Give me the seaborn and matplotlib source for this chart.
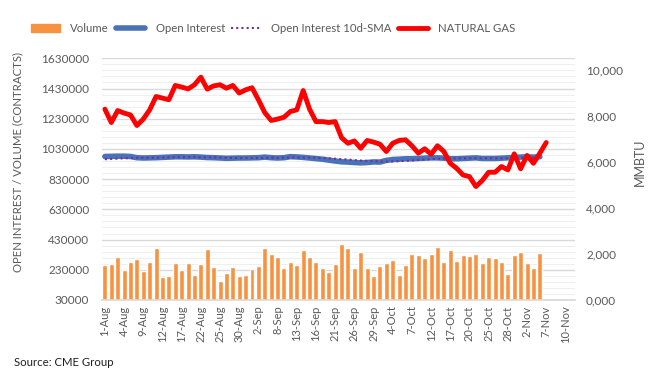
import matplotlib
matplotlib.use("Agg")
import matplotlib.pyplot as plt
from matplotlib.lines import Line2D
from matplotlib.patches import Patch
from matplotlib.ticker import FixedLocator, FuncFormatter
import numpy as np
import pandas as pd
import seaborn as sns

# trading days shown on the axis (US business days, Labor Day closed)
dates = pd.bdate_range("2022-08-01", "2022-11-11", freq="C", holidays=["2022-09-05"])
date_labels = [f"{d.day}-{d.strftime('%b')}" for d in dates]

volume = [
    262000, 269000, 316000, 229000, 282000, 302000, 223000, 282000, 375000, 183000,
    189000, 276000, 229000, 276000, 196000, 269000, 369000, 249000, 156000, 209000,
    249000, 189000, 196000, 236000, 256000, 375000, 336000, 316000, 242000, 282000,
    262000, 362000, 316000, 282000, 242000, 216000, 269000, 402000, 375000, 242000,
    349000, 242000, 189000, 256000, 276000, 296000, 196000, 262000, 336000, 329000,
    309000, 336000, 382000, 282000, 362000, 289000, 329000, 322000, 336000, 276000,
    316000, 309000, 282000, 203000, 329000, 349000, 276000, 242000, 342000,
]

open_interest = [
    980000, 981000, 982000, 982000, 980000, 972000, 970000, 971000, 972000, 974000,
    976000, 978000, 978000, 977000, 978000, 976000, 973000, 972000, 970000, 968000,
    969000, 970000, 970000, 971000, 972000, 976000, 972000, 970000, 972000, 979000,
    977000, 974000, 970000, 966000, 962000, 956000, 950000, 945000, 943000, 940000,
    938000, 940000, 944000, 943000, 954000, 960000, 962000, 965000, 965000, 967000,
    969000, 971000, 971000, 969000, 965000, 965000, 967000, 969000, 971000, 967000,
    967000, 967000, 969000, 971000, 974000, 976000, 978000, 976000, 978000,
]

oi_sma = [
    962000, 964000, 966000, 968000, 970000, 971000, 971000, 971000, 972000, 973000,
    974000, 975000, 975000, 975000, 975000, 975000, 975000, 974000, 973000, 972000,
    971000, 970000, 970000, 970000, 970000, 971000, 971000, 971000, 972000, 973000,
    973000, 973000, 973000, 972000, 970000, 968000, 965000, 962000, 960000, 956000,
    953000, 951000, 949000, 947000, 946000, 947000, 949000, 951000, 954000, 957000,
    960000, 963000, 965000, 966000, 967000, 968000, 968000, 968000, 968000, 968000,
    968000, 968000, 968000, 969000, 970000, 971000, 972000, 974000, 975000,
]

natural_gas = [
    8290, 7710, 8230, 8120, 8040, 7580, 7860, 8260, 8840, 8770,
    8700, 9320, 9250, 9170, 9350, 9680, 9160, 9300, 9350, 9200,
    9320, 8990, 9130, 9220, 8700, 8140, 7800, 7860, 7940, 8190,
    8260, 9100, 8290, 7750, 7750, 7710, 7750, 7050, 6810, 6910,
    6590, 6930, 6860, 6770, 6450, 6810, 6930, 6960, 6700, 6380,
    6570, 6330, 6700, 6450, 5940, 5720, 5430, 5360, 4930, 5190,
    5550, 5550, 5800, 5650, 6350, 5700, 6280, 5940, 6380, 6840,
]

ORANGE = "#F79240"
BLUE = "#4A72B8"
PURPLE = "#7030A0"
RED = "#FF0000"
TEXT = "#595959"

sns.set_theme(style="white")
plt.rcParams["font.family"] = ["Lato", "DejaVu Sans"]

W, H = 656, 381
fig = plt.figure(figsize=(W / 100, H / 100), dpi=100)
ax = fig.add_axes([101.7 / W, 1 - 300 / H, (575 - 101.7) / W, (300 - 58.3) / H])

df = pd.DataFrame({"date": date_labels[:len(volume)], "volume": volume})
sns.barplot(data=df, x="date", y="volume", order=date_labels, color=ORANGE,
            saturation=1, width=0.78, ax=ax)

x_oi = np.arange(len(open_interest))
sns.lineplot(x=x_oi, y=open_interest, color=BLUE, lw=4, ax=ax)
sns.lineplot(x=x_oi, y=oi_sma, color=PURPLE, lw=1.5, linestyle=(0, (1, 1.5)), ax=ax)

ax2 = ax.twinx()
sns.lineplot(x=np.arange(len(natural_gas)), y=natural_gas, color=RED, lw=3.5, ax=ax2)

ax.set_xlim(-0.5, len(date_labels) - 0.5)
ax.set_xticks(np.arange(0, len(date_labels), 3))
ax.set_xticklabels(date_labels[::3], rotation=90)
ax.set_xticks(np.arange(-0.5, len(date_labels)), minor=True)
ax.tick_params(axis="x", which="major", length=0, pad=4, labelsize=8, labelcolor=TEXT)
ax.tick_params(axis="x", which="minor", length=4, color="#BFBFBF", width=0.8)

ax.set_ylim(30000, 1630000)
ax.yaxis.set_major_locator(FixedLocator(np.arange(30000, 1630001, 200000)))
ax.yaxis.set_minor_locator(FixedLocator(np.arange(30000, 1630001, 40000)))
ax.yaxis.set_major_formatter(FuncFormatter(lambda v, p: f"{v:.0f}"))
ax.grid(which="major", axis="y", color="#D9D9D9", lw=1)
ax.grid(which="minor", axis="y", color="#EFEFEF", lw=0.8)
ax.set_axisbelow(True)
ax.tick_params(axis="y", which="both", length=0, pad=9, labelsize=8.5, labelcolor=TEXT)

ax2.set_ylim(0, 10500)
ax2.set_yticks(np.arange(0, 10001, 2000))
ax2.yaxis.set_major_formatter(FuncFormatter(lambda v, p: f"{int(v) // 1000},{int(v) % 1000:03d}"))
ax2.tick_params(axis="y", length=0, pad=8, labelsize=8.5, labelcolor=TEXT)

for s in ["top", "left", "right"]:
    ax.spines[s].set_visible(False)
ax.spines["bottom"].set_color("#D9D9D9")
for s in ax2.spines.values():
    s.set_visible(False)
ax.set_xlabel("")
ax.set_ylabel("")
ax2.set_ylabel("")

handles = [
    Patch(color=ORANGE),
    Line2D([], [], color=BLUE, lw=4),
    Line2D([], [], color=PURPLE, lw=1.5, ls=(0, (1, 1.5))),
    Line2D([], [], color=RED, lw=3.5),
]
labels = ["Volume", "Open Interest", "Open Interest 10d-SMA", "NATURAL GAS"]
fig.legend(handles, labels, loc="center", bbox_to_anchor=(273 / W, 1 - 28 / H), ncol=4,
           frameon=False, fontsize=8.2, handlelength=2.6, columnspacing=0.57,
           handletextpad=0.9, labelcolor=TEXT)

fig.text(18 / W, 1 - 162 / H, "OPEN INTEREST / VOLUME (CONTRACTS)", rotation=90,
         ha="center", va="center", fontsize=8.2, color=TEXT)
fig.text(640 / W, 1 - 162 / H, "MMBTU", rotation=90, ha="center", va="center",
         fontsize=9, color=TEXT)
fig.text(14 / W, 1 - 362 / H, "Source: CME Group", ha="left", va="center",
         fontsize=8.2, color="#1F1F1F")

fig.savefig("out.png", dpi=100)
